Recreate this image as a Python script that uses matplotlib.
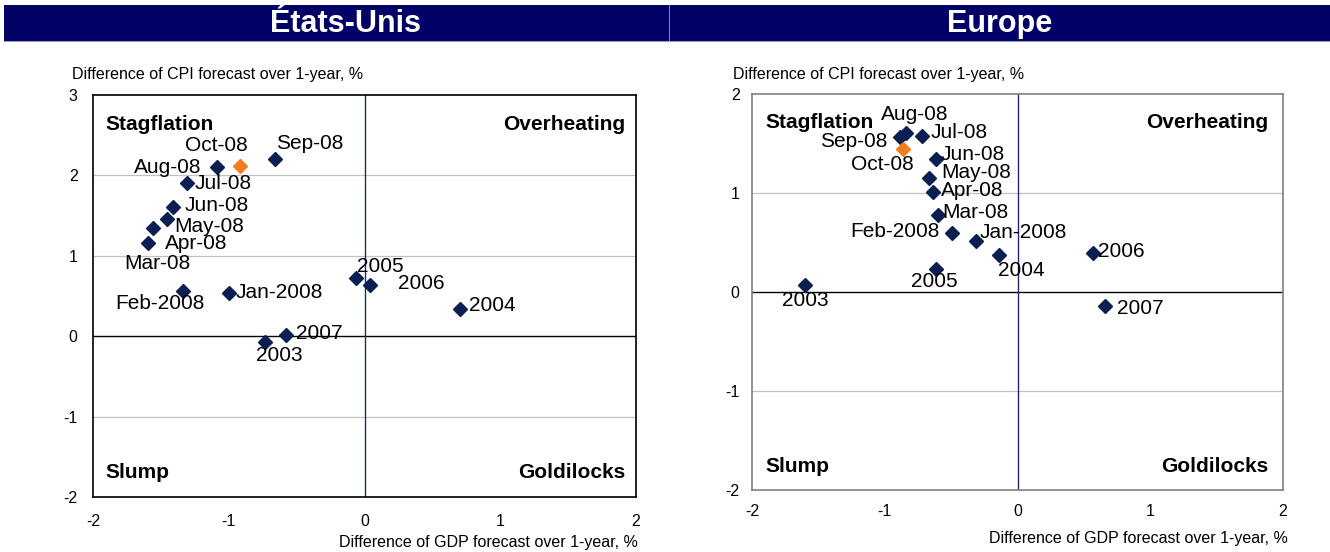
import matplotlib
matplotlib.use("Agg")
import matplotlib.pyplot as plt
from matplotlib.patches import Rectangle

plt.rcParams['font.family'] = ['Liberation Sans', 'DejaVu Sans']
plt.rcParams['axes.unicode_minus'] = False

# ---------------- data ----------------
us_labels = ["2003", "2004", "2005", "2006", "2007", "Jan-2008", "Feb-2008",
             "Mar-08", "Apr-08", "May-08", "Jun-08", "Jul-08", "Aug-08", "Sep-08"]
us_gdp = [-0.735, 0.70, -0.06, 0.04, -0.575, -1.00, -1.336,
          -1.556, -1.593, -1.458, -1.41, -1.311, -1.09, -0.662]
us_cpi = [-0.07, 0.34, 0.72, 0.64, 0.01, 0.54, 0.562,
          1.34, 1.165, 1.457, 1.61, 1.90, 2.10, 2.206]
us_last_label = "Oct-08"
us_last_gdp = -0.919
us_last_cpi = 2.118

eu_labels = ["2003", "2004", "2005", "2006", "2007", "Jan-2008", "Feb-2008",
             "Mar-08", "Apr-08", "May-08", "Jun-08", "Jul-08", "Aug-08", "Sep-08"]
eu_gdp = [-1.603, -0.143, -0.616, 0.568, 0.658, -0.314, -0.497,
          -0.598, -0.636, -0.666, -0.616, -0.719, -0.843, -0.887]
eu_cpi = [0.068, 0.378, 0.237, 0.389, -0.145, 0.516, 0.597,
          0.776, 1.012, 1.148, 1.34, 1.579, 1.61, 1.569]
eu_last_label = "Oct-08"
eu_last_gdp = -0.864
eu_last_cpi = 1.441

titles = ["États-Unis", "Europe"]
quadrants = ["Stagflation", "Overheating", "Slump", "Goldilocks"]
y_title = "Difference of CPI forecast over 1-year, %"
x_title = "Difference of GDP forecast over 1-year, %"
us_yticks = [-2, -1, 0, 1, 2, 3]
eu_yticks = [-2, -1, 0, 1, 2]
xticks = [-2, -1, 0, 1, 2]

# ---------------- style / layout ----------------
W, H = 1330, 552
NAVY = "#000066"
MARK = "#0b1f52"
ORANGE = "#f47c20"
LBL_FS = 15
TICK_FS = 11.5

# label offsets in pixels (dx, dy up-positive), and horizontal alignment
us_offsets = {
    "2003": (15, -14, "center"), "2004": (9, 3, "left"), "2005": (1, 12, "left"),
    "2006": (28, 1, "left"), "2007": (10, 2, "left"), "Jan-2008": (7, 0, "left"),
    "Feb-2008": (-23, -12, "center"), "Mar-08": (4, -35, "center"),
    "Apr-08": (17, -1, "left"), "May-08": (8, -7, "left"), "Jun-08": (12, 1, "left"),
    "Jul-08": (8, 0, "left"), "Aug-08": (-15, 0, "right"), "Sep-08": (35, 15, "center"),
    "Oct-08": (-23, 20, "center"),
}
eu_offsets = {
    "2003": (1, -15, "center"), "2004": (23, -16, "center"), "2005": (-1, -13, "center"),
    "2006": (5, 2, "left"), "2007": (12, -2, "left"), "Jan-2008": (4, 8, "left"),
    "Feb-2008": (-12, 1, "right"), "Mar-08": (4, 3, "left"), "Apr-08": (8, 1, "left"),
    "May-08": (12, 6, "left"), "Jun-08": (5, 5, "left"), "Jul-08": (9, 3, "left"),
    "Aug-08": (9, 18, "center"), "Sep-08": (-12, -5, "right"), "Oct-08": (-20, -15, "center"),
}
# quadrant label insets in pixels: (left, right, top, bottom)
us_quad_inset = (12, 11, 29, 25)
eu_quad_inset = (13, 15, 28, 24)

fig = plt.figure(figsize=(W / 100, H / 100), dpi=100)


def px_axes(x0, y0, x1, y1):
    return fig.add_axes([x0 / W, 1 - y1 / H, (x1 - x0) / W, (y1 - y0) / H])


# title bands
band = fig.add_axes([0, 0, 1, 1])
band.set_xlim(0, W)
band.set_ylim(H, 0)
band.axis("off")
band.add_patch(Rectangle((4, 5), 665, 36, facecolor=NAVY, edgecolor="none"))
band.add_patch(Rectangle((669, 5), 661, 36, facecolor=NAVY, edgecolor="none"))
band.plot([669, 669], [5, 41], color="#7f7fb2", lw=0.8)
band.plot([4, 1330], [41, 41], color="#9999cc", lw=0.8)
band.text(346, 24, titles[0], color="white", fontsize=22, fontweight="bold",
          ha="center", va="center")
band.text(1000, 24, titles[1], color="white", fontsize=22, fontweight="bold",
          ha="center", va="center")


def draw_panel(ax, gdp, cpi, labels, lgdp, lcpi, llabel, offsets, ylim, yticks,
               gridys, border, ypad, xpad, inset):
    ax.set_xlim(-2, 2)
    ax.set_ylim(*ylim)
    ax.set_xticks(xticks)
    ax.set_yticks(yticks)
    ax.tick_params(length=0, labelsize=TICK_FS)
    ax.tick_params(axis="y", pad=ypad)
    ax.tick_params(axis="x", pad=xpad)
    for s in ax.spines.values():
        s.set_color(border)
        s.set_linewidth(1.2)
    for gy in gridys:
        ax.axhline(gy, color="#c0c0c0", lw=0.9, zorder=1)
    ax.axhline(0, color="black", lw=1.0, zorder=1)
    ax.axvline(0, color="#1f2a6b", lw=1.0, zorder=1)
    ax.plot(gdp, cpi, linestyle="none", marker="D", ms=7.5, color=MARK,
            mec=MARK, zorder=3)
    ax.plot([lgdp], [lcpi], linestyle="none", marker="D", ms=7.5, color=ORANGE,
            mec=ORANGE, zorder=3)
    for lab, x, y in list(zip(labels, gdp, cpi)) + [(llabel, lgdp, lcpi)]:
        dx, dy, ha = offsets[lab]
        ax.annotate(lab, (x, y), xytext=(dx, dy), textcoords="offset pixels",
                    ha=ha, va="center", fontsize=LBL_FS, zorder=4)
    il, ir, it, ib = inset
    corners = [((0, 1), (il, -it), "left"), ((1, 1), (-ir, -it), "right"),
               ((0, 0), (il, ib), "left"), ((1, 0), (-ir, ib), "right")]
    for q, (xy, off, ha) in zip(quadrants, corners):
        ax.annotate(q, xy, xycoords="axes fraction", xytext=off,
                    textcoords="offset pixels", fontsize=LBL_FS,
                    fontweight="bold", ha=ha, va="center", zorder=4)


ax1 = px_axes(93, 95, 636, 497)
draw_panel(ax1, us_gdp, us_cpi, us_labels, us_last_gdp, us_last_cpi, us_last_label,
           us_offsets, (-2, 3), us_yticks, [1, 2, -1], "black", 11, 12, us_quad_inset)
fig.text(72 / W, 1 - 75 / H, y_title, fontsize=TICK_FS, ha="left", va="center")
fig.text(638 / W, 1 - 543 / H, x_title, fontsize=TICK_FS, ha="right", va="center")

ax2 = px_axes(752, 94, 1283, 490)
draw_panel(ax2, eu_gdp, eu_cpi, eu_labels, eu_last_gdp, eu_last_cpi, eu_last_label,
           eu_offsets, (-2, 2), eu_yticks, [1, -1], "#808080", 9, 10, eu_quad_inset)
fig.text(733 / W, 1 - 75 / H, y_title, fontsize=TICK_FS, ha="left", va="center")
fig.text(1288 / W, 1 - 538 / H, x_title, fontsize=TICK_FS, ha="right", va="center")

fig.savefig("out.png", dpi=100)
